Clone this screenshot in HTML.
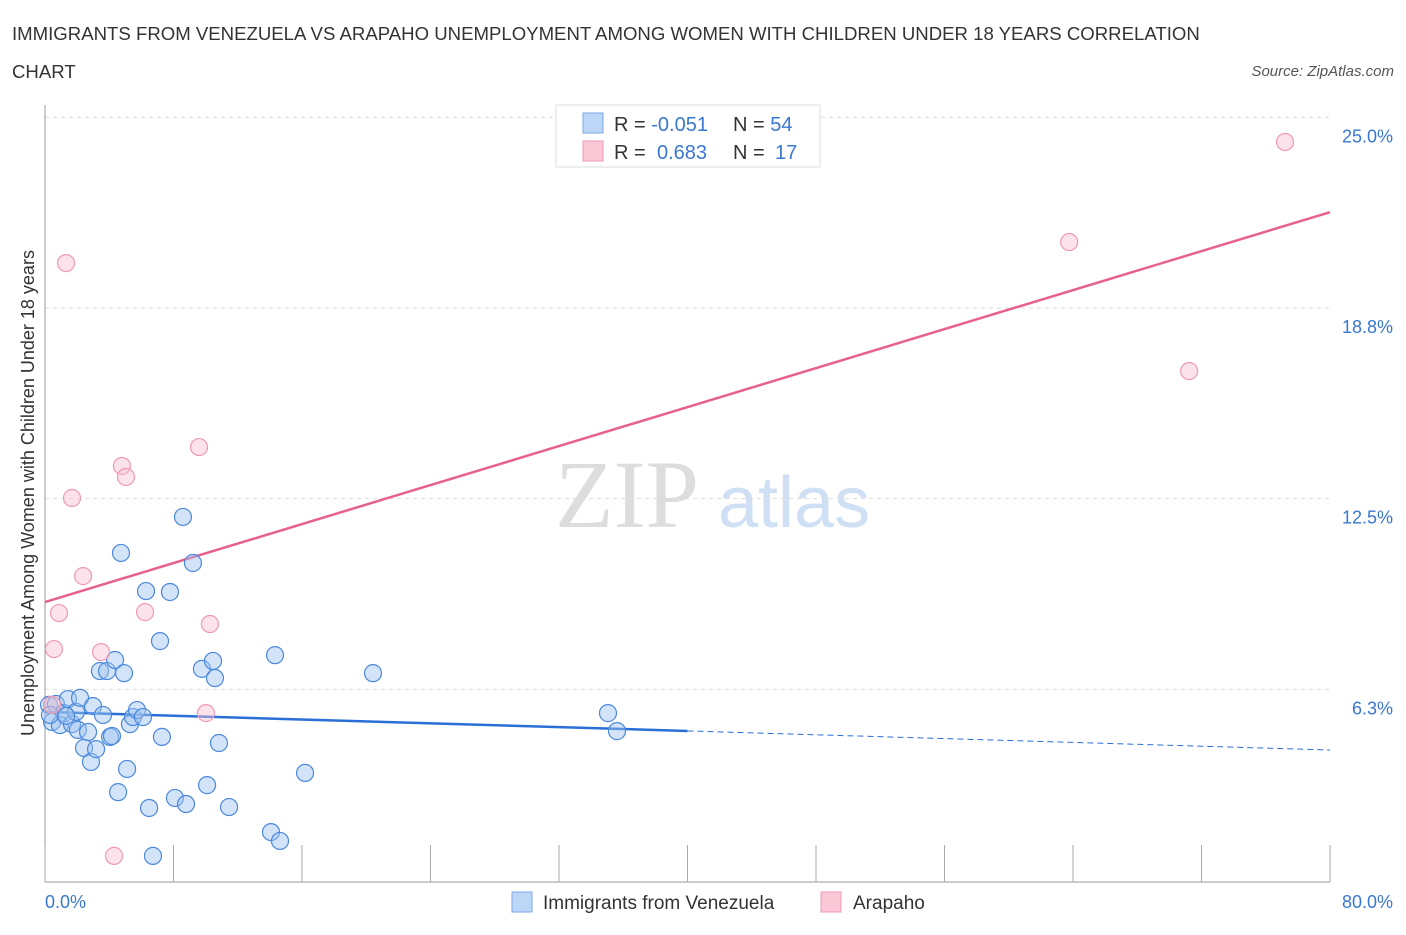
<!DOCTYPE html>
<html><head><meta charset="utf-8"><style>
body{margin:0;background:#fff;font-family:"Liberation Sans",sans-serif}
</style></head><body>
<svg id="chart" width="1406" height="930" xmlns="http://www.w3.org/2000/svg" font-family="Liberation Sans, sans-serif">
<text x="12" y="40" font-size="18.6" fill="#333">IMMIGRANTS FROM VENEZUELA VS ARAPAHO UNEMPLOYMENT AMONG WOMEN WITH CHILDREN UNDER 18 YEARS CORRELATION</text>
<text x="12" y="78" font-size="18.6" fill="#333">CHART</text>
<text x="1394" y="76" font-size="15" fill="#555" font-style="italic" text-anchor="end">Source: ZipAtlas.com</text>
<text x="555" y="527" font-size="96" fill="#ddd" font-family="Liberation Serif, serif">ZIP</text>
<text x="718" y="527" font-size="72" fill="#cfe0f5">atlas</text>
<g id="grid"></g><g id="axes"></g><g id="lines"></g><g id="pts"></g>
<text transform="translate(34,493) rotate(-90)" font-size="18" fill="#333" text-anchor="middle">Unemployment Among Women with Children Under 18 years</text>
<text x="45" y="908" font-size="18" fill="#3a78d0">0.0%</text>
<text x="1393" y="908" font-size="18" fill="#3a78d0" text-anchor="end">80.0%</text>
<g>
<rect x="556" y="105" width="264" height="62" fill="#fff" stroke="#ddd"/>
<rect x="583" y="113" width="20" height="20" fill="#bcd6f7" stroke="#7aa8e6"/>
<rect x="583" y="141" width="20" height="20" fill="#f9c7d6" stroke="#ef9ab5"/>
<text x="614" y="131" font-size="20" fill="#333">R = <tspan fill="#3a78d0">-0.051</tspan></text>
<text x="733" y="131" font-size="20" fill="#333">N = <tspan fill="#3a78d0">54</tspan></text>
<text x="614" y="159" font-size="20" fill="#333">R = <tspan fill="#3a78d0" x="657">0.683</tspan></text>
<text x="733" y="159" font-size="20" fill="#333">N = <tspan fill="#3a78d0" x="775">17</tspan></text>
</g>
<g>
<rect x="512" y="892" width="20" height="20" fill="#bcd6f7" stroke="#7aa8e6"/>
<text x="543" y="909" font-size="19" fill="#333">Immigrants from Venezuela</text>
<rect x="821" y="892" width="20" height="20" fill="#f9c7d6" stroke="#ef9ab5"/>
<text x="853" y="909" font-size="19" fill="#333">Arapaho</text>
</g>
</svg>
<script>
const yTicks=[6.25,12.5,18.75,25];
const yTickLabels=["6.3%","12.5%","18.8%","25.0%"];
const blueX=[0.25,0.44,0.68,0.93,1.18,1.43,1.68,1.93,2.18,2.05,2.43,2.68,2.86,3.18,2.99,3.42,3.61,3.86,4.05,4.17,4.36,4.55,4.73,4.92,5.11,5.29,5.48,5.73,6.10,6.29,6.48,6.72,7.16,7.28,7.78,8.09,8.59,8.78,9.21,9.77,10.09,10.46,10.58,10.83,11.46,14.07,14.32,14.63,16.19,20.42,35.05,35.61,0.31,1.31];
const blueY=[5.74,5.18,5.77,5.08,5.47,5.93,5.11,5.51,5.97,4.92,4.33,4.85,3.87,4.29,5.70,6.85,5.41,6.85,4.69,4.72,7.21,2.88,10.72,6.78,3.64,5.11,5.34,5.57,5.34,9.47,2.36,0.79,7.83,4.69,9.44,2.69,11.90,2.49,10.39,6.92,3.11,7.18,6.62,4.49,2.39,1.57,7.37,1.28,3.51,6.78,5.47,4.88,5.41,5.38];
const pinkX=[1.31,1.68,2.37,0.87,0.56,0.44,3.49,4.79,5.04,6.23,9.59,10.27,10.02,4.30,63.76,71.23,77.2];
const pinkY=[20.22,12.52,9.96,8.75,7.57,5.74,7.47,13.57,13.21,8.78,14.19,8.39,5.47,0.79,20.91,16.68,24.19];
const blueLine=[5.51,4.26]; // y at x=0 and x=80
const pinkLine=[9.11,21.89];
const blueSolidEnd=40;
const NS="http://www.w3.org/2000/svg";
const X=v=>45+v/80*1285, Y=v=>880-v*30.51;
function mk(t,a,p){const e=document.createElementNS(NS,t);for(const k in a)e.setAttribute(k,a[k]);document.getElementById(p).appendChild(e);return e;}
yTicks.forEach((t,i)=>{
 const g=mk('line',{x1:45,x2:1330,y1:Y(t),y2:Y(t),stroke:'#ddd','stroke-dasharray':'4,4'},'grid');
 
 
 const l=mk('text',{x:1393,y:Y(t)+25,'font-size':18,fill:'#3a78d0','text-anchor':'end'},'grid');
 l.textContent=yTickLabels[i];
 
 
});
const ax=mk('line',{x1:45,x2:45,y1:105,y2:882,stroke:'#999'},'axes');


const bx=mk('line',{x1:45,x2:1330,y1:882,y2:882,stroke:'#999'},'axes');


for(let i=0;i<=10;i++){
 const t=mk('line',{x1:X(i*8),x2:X(i*8),y1:845,y2:882,stroke:'#aaa'},'axes');
 
 
}
const by=x=>blueLine[0]+(blueLine[1]-blueLine[0])*x/80;
const py=x=>pinkLine[0]+(pinkLine[1]-pinkLine[0])*x/80;
let l1=mk('line',{x1:X(0),y1:Y(by(0)),x2:X(blueSolidEnd),y2:Y(by(blueSolidEnd)),stroke:'#2a6fd6','stroke-width':2.5},'lines');


let l2=mk('line',{x1:X(blueSolidEnd),y1:Y(by(blueSolidEnd)),x2:X(80),y2:Y(by(80)),stroke:'#2a6fd6','stroke-width':1,'stroke-dasharray':'6,4'},'lines');


let l3=mk('line',{x1:X(0),y1:Y(py(0)),x2:X(80),y2:Y(py(80)),stroke:'#e8608c','stroke-width':2.5},'lines');


blueX.forEach((x,i)=>{
 const c=mk('circle',{cx:X(x),cy:Y(blueY[i]),r:8.5,fill:'rgba(160,196,240,0.45)',stroke:'#4a88dc','stroke-width':1.2},'pts');
 
 
});
pinkX.forEach((x,i)=>{
 const c=mk('circle',{cx:X(x),cy:Y(pinkY[i]),r:8.5,fill:'rgba(248,190,208,0.45)',stroke:'#ef9ab5','stroke-width':1.2},'pts');
 
 
});
</script>
</body></html>
